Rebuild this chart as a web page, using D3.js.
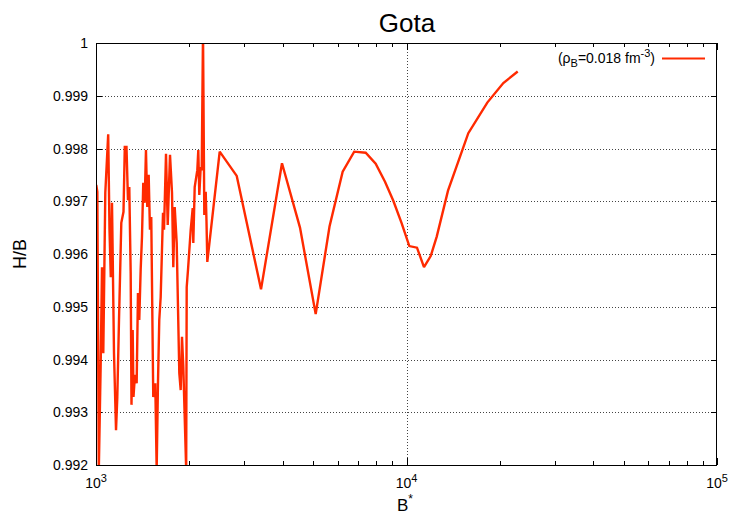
<!DOCTYPE html>
<html><head><meta charset="utf-8">
<script src="https://cdn.jsdelivr.net/npm/d3@7"></script>
<style>
html,body{margin:0;padding:0;background:#fff;}
text{font-family:"Liberation Sans",Arial,Helvetica,sans-serif;fill:#000;}
</style></head>
<body>
<svg id="chart" width="740" height="517"></svg>
<script>
// ---- data ----
const bStar = [1002,1010,1021,1035.5,1045.5,1055.6,1071.4,1094.7,1105.3,1116,1126,1142.8,1160,1171.2,1186,1206.4,1226.2,1238,1253.7,1267.6,1280,1293.3,1301,1312.6,1320.4,1335,1352,1365.1,1378.3,1392.7,1406.2,1419.8,1434.6,1448.5,1462.5,1477.8,1492,1506.5,1529,1552,1568.2,1583.4,1598.7,1615.4,1643.7,1656,1680.6,1702,1731.2,1757.1,1774,1792.6,1819.4,1854.8,1874,1892.2,1910.5,1952,1959.3,1978.3,2018.4,2048.5,2057.7,2079,2119.6,2135.4,2151.3,2173.8,2190,2211.2,2232.6,2255.9,2269.3,2282.8,2502.5,2839.6,3400,3972,4539.5,5099.5,5650,6229,6785,7389,7957,8527,9068,9650,10210,10810,11385,11965,12513,13605,15815,18205,20502,22810];
const hOverB = [0.99731,0.99718,0.9919,0.99393,0.99575,0.99412,0.99716,0.99827,0.99646,0.99556,0.99697,0.99412,0.99266,0.99329,0.99475,0.99659,0.9968,0.99803,0.99803,0.99702,0.99727,0.99564,0.99314,0.99456,0.99329,0.99371,0.99355,0.99526,0.99475,0.9957,0.99632,0.99735,0.99697,0.99797,0.99689,0.9975,0.99646,0.9967,0.99329,0.99355,0.9919,0.99355,0.99475,0.99518,0.99678,0.99646,0.9979,0.99655,0.99788,0.99716,0.99575,0.99689,0.99621,0.99374,0.99342,0.99443,0.99386,0.9919,0.99537,0.9957,0.99646,0.99687,0.99621,0.99727,0.99759,0.99797,0.99712,0.99765,0.99759,1.0002,0.99674,0.99718,0.99661,0.99585,0.99794,0.99748,0.99533,0.99772,0.9965,0.99486,0.99652,0.99756,0.99794,0.99792,0.99771,0.99737,0.99701,0.99658,0.99615,0.99612,0.99575,0.99596,0.99633,0.9972,0.99829,0.99887,0.99924,0.99946];
const yTicks = [0.992,0.993,0.994,0.995,0.996,0.997,0.998,0.999,1];
const yTickLabels = ["0.992","0.993","0.994","0.995","0.996","0.997","0.998","0.999","1"];
const xMajor = [1000,10000,100000];
const xMajorExp = ["3","4","5"];
const xMinor = [2000,3000,4000,5000,6000,7000,8000,9000,20000,30000,40000,50000,60000,70000,80000,90000];
const titleText = "Gota";
const lineColor = "#ff2a00";

// ---- layout ----
const L = 96, R = 717, T = 43, B = 465;
const svg = d3.select("#chart");
const x = d3.scaleLog().domain([1000,100000]).range([L,R]);
const y = d3.scaleLinear().domain([0.992,1]).range([B,T]);

svg.append("defs").append("clipPath").attr("id","clip")
  .append("rect").attr("x",L).attr("y",T).attr("width",R-L).attr("height",B-T);

// grid
const grid = svg.append("g");
grid.selectAll("line.gy").data(yTicks.filter(d=>d>0.992 && d<1)).join("line")
  .attr("x1",L).attr("x2",R).attr("y1",d=>Math.round(y(d))+0.5).attr("y2",d=>Math.round(y(d))+0.5)
  .attr("stroke","#444").attr("stroke-width",1).attr("stroke-dasharray","1,2");
grid.selectAll("line.gx").data([10000]).join("line")
  .attr("y1",T).attr("y2",B).attr("x1",d=>Math.round(x(d))+0.5).attr("x2",d=>Math.round(x(d))+0.5)
  .attr("stroke","#444").attr("stroke-width",1).attr("stroke-dasharray","1,2");

// ticks (mirrored, inward)
const tk = svg.append("g").attr("stroke","#000").attr("stroke-width",1);
yTicks.forEach(v=>{
  const yy = Math.round(y(v))+0.5;
  tk.append("line").attr("x1",L).attr("x2",L+6).attr("y1",yy).attr("y2",yy);
  tk.append("line").attr("x1",R-6).attr("x2",R).attr("y1",yy).attr("y2",yy);
});
xMinor.forEach(v=>{
  const xx = Math.round(x(v))+0.5;
  tk.append("line").attr("x1",xx).attr("x2",xx).attr("y1",B).attr("y2",B-4);
  tk.append("line").attr("x1",xx).attr("x2",xx).attr("y1",T).attr("y2",T+4);
});
xMajor.forEach(v=>{
  const xx = Math.round(x(v))+0.5;
  tk.append("line").attr("x1",xx).attr("x2",xx).attr("y1",B).attr("y2",B-7);
  tk.append("line").attr("x1",xx).attr("x2",xx).attr("y1",T).attr("y2",T+7);
});

// data line
const line = d3.line().x((d,i)=>x(bStar[i])).y(d=>y(d));
svg.append("path").datum(hOverB).attr("clip-path","url(#clip)")
  .attr("d",line).attr("fill","none").attr("stroke",lineColor)
  .attr("stroke-width",2.4).attr("stroke-linejoin","miter").attr("stroke-miterlimit",2);

// border
svg.append("rect").attr("x",L+0.5).attr("y",T+0.5).attr("width",R-L-1).attr("height",B-T)
  .attr("fill","none").attr("stroke","#000").attr("stroke-width",1);

// y tick labels
svg.append("g").selectAll("text").data(yTicks).join("text")
  .attr("x",L-8).attr("y",d=>y(d)+5).attr("text-anchor","end")
  .attr("font-size",14).text((d,i)=>yTickLabels[i]);

// x tick labels
const xl = svg.append("g");
xMajor.forEach((v,i)=>{
  const t = xl.append("text").attr("x",x(v)).attr("y",488).attr("text-anchor","middle").attr("font-size",14);
  t.append("tspan").text("10");
  t.append("tspan").attr("dy",-6).attr("font-size",11).text(xMajorExp[i]);
});

// title
svg.append("text").attr("x",407).attr("y",32).attr("text-anchor","middle")
  .attr("font-size",26).text(titleText);

// axis labels
const xt = svg.append("text").attr("x",405).attr("y",511).attr("text-anchor","middle").attr("font-size",17);
xt.append("tspan").text("B");
xt.append("tspan").attr("dy",-8).attr("font-size",12).text("*");
svg.append("text").attr("transform","translate(26,254) rotate(-90)").attr("text-anchor","middle")
  .attr("font-size",18).text("H/B");

// legend
const lg = svg.append("text").attr("x",655).attr("y",63).attr("text-anchor","end").attr("font-size",14);
lg.append("tspan").text("(ρ");
lg.append("tspan").attr("dy",4).attr("font-size",11).text("B");
lg.append("tspan").attr("dy",-4).text("=0.018 fm");
lg.append("tspan").attr("dy",-6).attr("font-size",11).text("-3");
lg.append("tspan").attr("dy",6).text(")");
svg.append("line").attr("x1",662).attr("x2",705).attr("y1",58.5).attr("y2",58.5)
  .attr("stroke",lineColor).attr("stroke-width",2);
</script>
</body></html>
